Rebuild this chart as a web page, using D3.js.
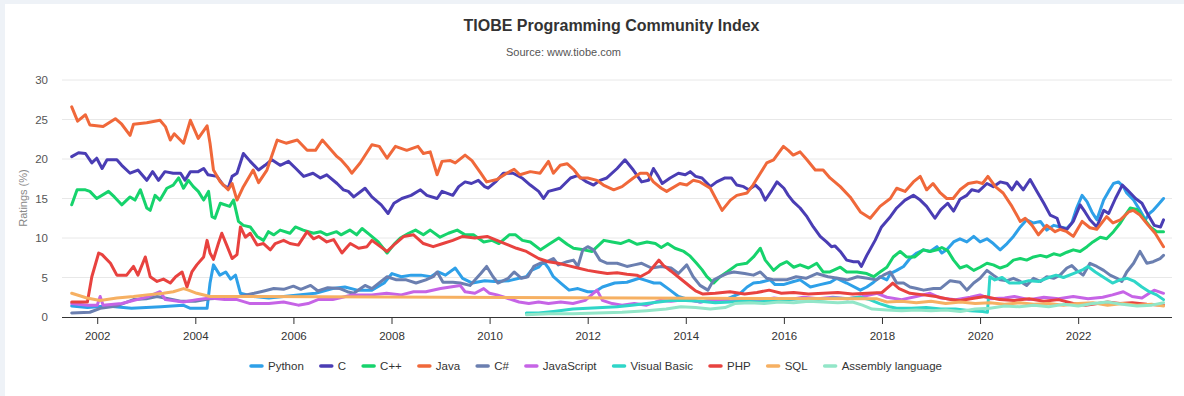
<!DOCTYPE html>
<html><head><meta charset="utf-8">
<script src="https://cdn.jsdelivr.net/npm/d3@7/dist/d3.min.js"></script>
<style>
html,body{margin:0;padding:0;background:#fff;}
svg{display:block;font-family:"Liberation Sans",Arial,Helvetica,sans-serif;}
</style></head>
<body><svg id="c" width="1184" height="396"></svg>
<script>
const seriesNames = ["Python","C","C++","Java","C#","JavaScript","Visual Basic","PHP","SQL","Assembly language"];
const seriesColors = ["#2ea0e8","#4a3db4","#16d36c","#f0683a","#6b7fb0","#c664e6","#2fd6c8","#e8423f","#f6b062","#92e6c8"];
const yearTicks = ["2002","2004","2006","2008","2010","2012","2014","2016","2018","2020","2022"];
const ratingTicks = [0,5,10,15,20,25,30];

const python = [[2001.48,1.4],[2001.8,1.2],[2002.2,1.4],[2002.7,1.1],[2003.3,1.3],[2003.75,1.5],[2003.9,1.1],[2004.24,1.1],[2004.3,4.3],[2004.37,6.6],[2004.5,5.3],[2004.62,5.7],[2004.72,4.8],[2004.82,5.3],[2004.92,3.0],[2005.18,2.6],[2005.5,2.4],[2005.8,2.6],[2006.1,2.8],[2006.45,3.0],[2006.8,3.6],[2007.05,3.8],[2007.3,3.4],[2007.6,3.4],[2007.85,4.3],[2008.01,5.5],[2008.2,5.1],[2008.4,5.3],[2008.6,5.3],[2008.8,5.1],[2008.95,5.7],[2009.1,5.3],[2009.3,6.2],[2009.45,4.9],[2009.65,4.3],[2009.9,4.6],[2010.1,4.5],[2010.4,4.6],[2010.6,4.9],[2010.75,5.1],[2010.85,5.9],[2011.0,6.3],[2011.1,7.0],[2011.2,6.2],[2011.3,5.1],[2011.45,4.3],[2011.62,3.4],[2011.8,3.6],[2012.0,3.2],[2012.15,3.2],[2012.3,3.8],[2012.55,4.3],[2012.8,4.4],[2013.05,4.9],[2013.2,4.6],[2013.35,4.3],[2013.48,4.3],[2013.68,3.4],[2013.85,2.6],[2014.02,2.3],[2014.29,1.9],[2014.5,2.1],[2014.77,2.1],[2015.11,3.0],[2015.25,3.8],[2015.38,4.3],[2015.52,4.4],[2015.72,4.7],[2015.82,4.1],[2015.99,4.1],[2016.2,4.5],[2016.33,4.7],[2016.54,3.8],[2016.74,4.1],[2016.95,4.4],[2017.08,4.9],[2017.28,4.3],[2017.56,3.4],[2017.69,3.8],[2017.83,4.4],[2017.96,5.1],[2018.1,4.7],[2018.17,5.5],[2018.3,5.9],[2018.44,6.4],[2018.57,7.4],[2018.71,8.1],[2018.85,8.5],[2018.98,8.3],[2019.12,8.9],[2019.22,8.1],[2019.32,8.5],[2019.46,9.5],[2019.59,9.9],[2019.73,9.5],[2019.87,10.2],[2020.0,9.5],[2020.14,9.9],[2020.27,9.3],[2020.41,8.5],[2020.55,9.3],[2020.68,10.2],[2020.82,11.4],[2020.95,12.3],[2021.09,11.9],[2021.23,12.1],[2021.36,11.0],[2021.5,11.6],[2021.63,11.4],[2021.77,11.2],[2021.87,11.9],[2021.97,13.8],[2022.08,15.4],[2022.18,14.6],[2022.28,13.3],[2022.38,12.3],[2022.52,14.8],[2022.62,15.9],[2022.72,16.9],[2022.82,17.1],[2022.92,16.5],[2022.99,15.7],[2023.13,14.8],[2023.26,13.5],[2023.37,12.3],[2023.45,13.1],[2023.53,13.5],[2023.63,14.2],[2023.74,15.0]];

const c = [[2001.48,20.3],[2001.62,20.8],[2001.76,20.7],[2001.89,19.5],[2001.99,20.1],[2002.1,18.8],[2002.2,19.9],[2002.4,19.9],[2002.5,19.2],[2002.67,18.2],[2002.83,18.6],[2003.01,17.3],[2003.13,18.4],[2003.25,17.3],[2003.38,18.4],[2003.55,18.2],[2003.7,18.2],[2003.79,17.3],[2003.9,18.4],[2004.06,18.4],[2004.17,18.8],[2004.26,18.0],[2004.44,17.8],[2004.57,16.7],[2004.67,16.3],[2004.75,17.8],[2004.85,18.2],[2004.98,20.7],[2005.12,19.7],[2005.29,18.6],[2005.42,19.2],[2005.56,19.9],[2005.73,19.2],[2005.9,19.7],[2006.05,18.8],[2006.21,17.8],[2006.4,18.2],[2006.55,17.6],[2006.68,18.0],[2006.89,16.9],[2007.02,16.1],[2007.12,15.9],[2007.23,15.2],[2007.46,16.3],[2007.6,15.2],[2007.79,14.2],[2007.93,13.1],[2008.05,14.4],[2008.21,15.0],[2008.4,15.4],[2008.59,16.1],[2008.72,15.4],[2008.93,15.0],[2009.03,15.9],[2009.25,15.4],[2009.37,16.5],[2009.5,17.1],[2009.63,16.9],[2009.77,17.3],[2009.9,16.5],[2009.97,16.3],[2010.12,17.1],[2010.28,18.2],[2010.48,18.2],[2010.66,17.6],[2010.83,16.7],[2011.0,15.9],[2011.1,15.0],[2011.2,15.9],[2011.44,16.3],[2011.65,17.6],[2011.79,17.9],[2011.98,17.1],[2012.12,16.7],[2012.25,17.3],[2012.39,17.6],[2012.6,18.8],[2012.76,19.9],[2012.93,18.6],[2013.1,17.1],[2013.24,17.3],[2013.34,18.8],[2013.44,17.8],[2013.52,16.9],[2013.68,17.6],[2013.85,18.2],[2013.99,18.0],[2014.09,18.4],[2014.2,17.8],[2014.33,17.6],[2014.5,16.5],[2014.63,17.1],[2014.8,17.6],[2014.93,17.6],[2015.04,16.7],[2015.18,16.5],[2015.28,16.1],[2015.42,16.7],[2015.52,16.1],[2015.62,14.8],[2015.76,16.1],[2015.86,17.1],[2016.0,16.3],[2016.09,15.4],[2016.19,14.6],[2016.33,13.8],[2016.47,12.7],[2016.6,11.4],[2016.74,10.2],[2016.87,9.5],[2016.97,8.9],[2017.04,9.0],[2017.15,8.3],[2017.28,7.2],[2017.42,7.0],[2017.52,7.0],[2017.58,6.4],[2017.69,7.8],[2017.86,9.7],[2017.99,11.4],[2018.17,12.7],[2018.3,13.8],[2018.47,14.8],[2018.64,15.4],[2018.78,14.8],[2018.91,14.0],[2019.08,12.5],[2019.2,13.6],[2019.34,14.4],[2019.46,13.4],[2019.59,14.9],[2019.73,15.4],[2019.83,16.1],[2019.97,15.9],[2020.14,16.9],[2020.27,16.5],[2020.41,17.1],[2020.55,16.9],[2020.65,16.1],[2020.75,17.1],[2020.88,16.1],[2021.02,17.4],[2021.16,15.9],[2021.3,14.4],[2021.43,12.9],[2021.57,12.5],[2021.63,11.4],[2021.77,11.1],[2021.9,12.1],[2022.04,14.2],[2022.14,13.3],[2022.24,12.3],[2022.38,11.4],[2022.52,13.5],[2022.62,13.1],[2022.76,15.0],[2022.9,16.7],[2023.0,16.1],[2023.17,15.0],[2023.3,14.4],[2023.41,13.1],[2023.55,11.6],[2023.68,11.4],[2023.74,12.3]];

const cpp = [[2001.48,14.2],[2001.59,16.1],[2001.76,16.1],[2001.85,15.9],[2001.99,15.0],[2002.23,15.9],[2002.35,15.2],[2002.5,14.2],[2002.67,15.2],[2002.77,14.8],[2002.88,16.1],[2003.01,13.8],[2003.08,13.5],[2003.18,15.4],[2003.28,14.8],[2003.42,16.3],[2003.55,16.7],[2003.66,17.6],[2003.76,16.3],[2003.86,17.3],[2003.96,16.5],[2004.06,15.9],[2004.17,14.8],[2004.27,15.9],[2004.34,12.7],[2004.4,12.5],[2004.51,14.4],[2004.7,14.0],[2004.78,14.8],[2004.88,12.1],[2004.98,11.6],[2005.12,11.4],[2005.26,10.2],[2005.39,9.7],[2005.49,10.8],[2005.6,10.4],[2005.73,11.0],[2005.93,10.6],[2006.04,11.4],[2006.2,11.0],[2006.41,10.6],[2006.55,10.8],[2006.68,10.4],[2006.88,10.8],[2006.97,10.4],[2007.15,11.0],[2007.29,10.4],[2007.4,11.2],[2007.56,10.4],[2007.73,9.5],[2007.91,8.1],[2008.05,9.2],[2008.18,10.0],[2008.35,10.6],[2008.49,11.0],[2008.65,10.4],[2008.79,11.0],[2008.99,10.1],[2009.16,10.6],[2009.34,11.0],[2009.5,10.4],[2009.67,10.4],[2009.88,9.5],[2010.05,9.7],[2010.19,9.3],[2010.4,10.4],[2010.53,10.4],[2010.67,9.7],[2010.83,9.5],[2011.04,8.5],[2011.21,9.2],[2011.41,10.0],[2011.58,9.2],[2011.71,8.7],[2011.92,8.5],[2012.09,8.3],[2012.33,9.7],[2012.5,9.5],[2012.67,9.3],[2012.84,9.7],[2013.01,9.2],[2013.21,9.5],[2013.38,9.3],[2013.5,8.8],[2013.63,9.3],[2013.78,8.7],[2013.96,8.3],[2014.09,7.7],[2014.22,6.8],[2014.33,6.0],[2014.43,5.1],[2014.57,4.3],[2014.7,5.1],[2014.84,5.7],[2015.04,6.6],[2015.24,6.8],[2015.38,7.6],[2015.52,8.7],[2015.62,7.2],[2015.79,5.9],[2015.92,6.6],[2016.06,7.0],[2016.2,6.3],[2016.33,6.6],[2016.5,6.2],[2016.67,6.8],[2016.8,5.7],[2016.94,5.7],[2017.15,6.3],[2017.28,5.7],[2017.49,5.7],[2017.69,5.5],[2017.83,5.1],[2017.96,5.7],[2018.1,6.3],[2018.23,7.6],[2018.37,8.3],[2018.5,7.6],[2018.67,7.6],[2018.84,8.5],[2018.98,8.3],[2019.12,8.5],[2019.22,8.8],[2019.34,8.4],[2019.46,7.2],[2019.59,6.2],[2019.73,6.5],[2019.87,5.9],[2020.0,6.3],[2020.14,6.8],[2020.27,6.6],[2020.41,6.2],[2020.55,6.5],[2020.68,7.2],[2020.82,7.4],[2020.95,7.2],[2021.09,7.6],[2021.23,7.8],[2021.36,7.6],[2021.5,8.0],[2021.63,7.8],[2021.77,8.2],[2021.9,8.5],[2022.04,8.3],[2022.18,8.9],[2022.3,9.5],[2022.45,10.1],[2022.58,9.9],[2022.72,10.8],[2022.86,11.9],[2022.96,12.9],[2023.06,13.8],[2023.2,13.6],[2023.33,12.5],[2023.47,11.4],[2023.6,10.8],[2023.74,10.8]];

const java = [[2001.48,26.6],[2001.6,24.8],[2001.76,25.6],[2001.85,24.3],[2002.12,24.1],[2002.37,25.1],[2002.5,24.4],[2002.67,23.0],[2002.74,24.4],[2003.01,24.6],[2003.28,24.9],[2003.39,24.1],[2003.49,22.4],[2003.57,23.2],[2003.76,22.0],[2003.9,24.9],[2004.06,22.6],[2004.24,24.2],[2004.3,22.0],[2004.37,18.6],[2004.51,17.1],[2004.67,16.1],[2004.75,16.9],[2004.85,14.8],[2004.98,16.5],[2005.18,18.6],[2005.29,17.0],[2005.46,18.6],[2005.67,22.4],[2005.85,22.0],[2006.08,22.4],[2006.28,21.1],[2006.45,21.1],[2006.59,22.4],[2006.89,20.3],[2006.97,19.9],[2007.1,19.0],[2007.19,18.2],[2007.36,19.5],[2007.6,21.8],[2007.75,21.6],[2007.91,20.1],[2008.08,21.6],[2008.31,21.1],[2008.54,21.6],[2008.65,20.7],[2008.79,20.9],[2008.93,18.0],[2009.03,19.7],[2009.2,19.8],[2009.3,19.5],[2009.5,20.5],[2009.64,19.8],[2009.82,18.2],[2009.94,17.1],[2010.15,17.4],[2010.35,18.2],[2010.5,18.7],[2010.62,18.0],[2010.83,18.4],[2011.03,18.2],[2011.2,19.7],[2011.3,18.2],[2011.44,19.2],[2011.58,19.4],[2011.71,18.7],[2011.85,17.6],[2012.0,17.6],[2012.19,17.3],[2012.32,16.7],[2012.53,16.1],[2012.7,16.5],[2012.93,17.6],[2013.07,18.2],[2013.21,18.2],[2013.34,17.1],[2013.5,16.3],[2013.61,15.9],[2013.88,16.9],[2014.02,16.7],[2014.15,17.3],[2014.29,17.1],[2014.5,16.3],[2014.74,13.5],[2014.91,14.8],[2015.04,15.4],[2015.25,15.7],[2015.37,16.7],[2015.52,18.2],[2015.65,19.5],[2015.79,19.9],[2015.99,21.6],[2016.09,21.1],[2016.19,20.5],[2016.33,20.9],[2016.47,19.9],[2016.64,18.6],[2016.8,18.6],[2016.94,17.6],[2017.15,16.5],[2017.35,15.2],[2017.56,13.3],[2017.76,12.5],[2017.96,14.0],[2018.17,15.0],[2018.3,16.3],[2018.47,15.9],[2018.64,17.1],[2018.78,17.8],[2018.91,16.1],[2019.04,16.9],[2019.19,15.7],[2019.32,15.0],[2019.45,15.0],[2019.59,16.1],[2019.76,16.9],[2019.93,17.1],[2020.05,16.9],[2020.16,17.8],[2020.31,16.5],[2020.47,15.7],[2020.65,14.0],[2020.82,12.1],[2020.92,12.5],[2021.06,11.6],[2021.19,10.4],[2021.36,11.6],[2021.53,10.8],[2021.63,11.1],[2021.77,10.8],[2021.9,10.2],[2022.08,12.1],[2022.24,11.3],[2022.38,11.1],[2022.58,12.7],[2022.71,11.9],[2022.86,12.3],[2023.03,13.3],[2023.12,13.5],[2023.26,12.9],[2023.43,11.6],[2023.57,10.6],[2023.74,8.9]];

const csharp = [[2001.48,0.5],[2001.85,0.6],[2002.06,1.1],[2002.4,1.4],[2002.74,2.2],[2003.0,2.3],[2003.22,2.6],[2003.45,2.3],[2003.7,2.0],[2004.0,2.0],[2004.3,2.3],[2004.6,2.4],[2004.9,2.6],[2005.2,3.0],[2005.4,3.3],[2005.6,3.6],[2005.8,3.5],[2006.0,3.9],[2006.15,3.5],[2006.35,4.0],[2006.5,3.3],[2006.7,3.7],[2006.95,3.6],[2007.1,3.2],[2007.23,3.0],[2007.46,4.0],[2007.6,3.6],[2007.91,5.1],[2008.1,4.7],[2008.3,4.7],[2008.5,4.3],[2008.7,4.7],[2008.85,5.1],[2008.93,5.7],[2009.05,4.4],[2009.25,4.4],[2009.4,4.3],[2009.6,4.0],[2009.82,5.5],[2009.94,6.4],[2010.07,5.1],[2010.17,4.3],[2010.38,4.9],[2010.5,5.7],[2010.65,4.9],[2010.78,5.1],[2010.9,6.4],[2011.03,6.8],[2011.17,7.0],[2011.3,7.4],[2011.4,6.6],[2011.58,7.0],[2011.71,7.2],[2011.8,6.4],[2011.9,8.5],[2012.0,8.9],[2012.12,8.5],[2012.25,7.2],[2012.4,6.8],[2012.6,6.8],[2012.8,6.4],[2012.95,6.6],[2013.1,6.8],[2013.3,6.2],[2013.5,6.4],[2013.7,6.2],[2013.85,5.5],[2014.02,6.6],[2014.15,5.1],[2014.29,4.0],[2014.45,3.4],[2014.57,4.7],[2014.7,5.1],[2014.84,5.5],[2014.98,5.7],[2015.2,5.5],[2015.38,5.3],[2015.52,5.7],[2015.65,4.9],[2015.8,4.7],[2016.05,4.7],[2016.25,5.1],[2016.45,4.9],[2016.67,5.5],[2016.9,5.1],[2017.1,4.9],[2017.3,4.7],[2017.5,5.1],[2017.7,4.9],[2017.89,4.7],[2018.03,5.3],[2018.17,5.7],[2018.3,4.3],[2018.44,4.3],[2018.57,3.8],[2018.71,3.6],[2018.85,3.4],[2019.05,3.6],[2019.19,3.6],[2019.39,4.6],[2019.59,4.4],[2019.73,3.4],[2019.87,4.3],[2020.0,4.9],[2020.14,5.9],[2020.27,5.3],[2020.41,4.7],[2020.55,4.6],[2020.68,4.9],[2020.82,4.5],[2020.95,4.0],[2021.09,4.9],[2021.23,4.5],[2021.36,5.1],[2021.5,4.9],[2021.63,5.3],[2021.77,6.2],[2021.87,6.5],[2021.97,5.9],[2022.1,5.3],[2022.24,6.8],[2022.38,6.4],[2022.52,5.9],[2022.65,5.3],[2022.79,4.9],[2022.89,4.5],[2022.99,5.7],[2023.13,6.8],[2023.26,8.3],[2023.4,6.8],[2023.53,7.0],[2023.67,7.4],[2023.74,7.8]];

const javascript = [[2001.48,1.7],[2001.8,1.5],[2002.0,1.5],[2002.06,2.6],[2002.12,1.5],[2002.5,1.7],[2002.81,2.2],[2003.05,2.6],[2003.28,3.2],[2003.39,2.2],[2003.76,1.9],[2004.03,2.2],[2004.3,2.4],[2004.6,2.2],[2004.85,2.2],[2005.12,1.7],[2005.5,1.7],[2005.8,1.9],[2006.1,1.5],[2006.3,1.7],[2006.5,2.2],[2006.8,2.2],[2007.0,2.5],[2007.2,2.8],[2007.6,2.8],[2007.9,3.0],[2008.2,2.8],[2008.45,3.2],[2008.7,3.2],[2009.0,3.6],[2009.2,3.8],[2009.4,4.0],[2009.5,3.2],[2009.7,3.0],[2009.88,3.6],[2010.0,3.0],[2010.15,2.8],[2010.35,2.4],[2010.6,1.9],[2010.8,1.7],[2011.0,1.9],[2011.2,1.7],[2011.45,1.9],[2011.7,1.7],[2011.95,2.1],[2012.19,3.4],[2012.3,2.1],[2012.5,1.7],[2012.7,1.5],[2012.95,1.7],[2013.2,1.5],[2013.48,2.1],[2013.7,2.0],[2014.0,2.2],[2014.3,1.9],[2014.6,2.2],[2014.9,2.0],[2015.2,2.3],[2015.5,2.1],[2015.8,2.4],[2016.1,2.2],[2016.4,2.5],[2016.7,2.3],[2017.0,2.5],[2017.3,2.3],[2017.6,2.6],[2017.9,3.0],[2018.1,2.5],[2018.4,2.2],[2018.7,2.6],[2018.98,3.0],[2019.2,2.4],[2019.5,2.2],[2019.8,2.5],[2020.0,2.8],[2020.2,2.3],[2020.5,2.4],[2020.7,2.6],[2021.0,2.2],[2021.3,2.5],[2021.6,2.3],[2021.9,2.6],[2022.2,2.3],[2022.5,2.5],[2022.7,2.8],[2022.92,3.2],[2023.1,2.6],[2023.3,2.4],[2023.45,3.0],[2023.55,3.4],[2023.74,3.0]];

const visualBasic = [[2010.75,0.5],[2011.0,0.5],[2011.3,0.7],[2011.7,1.0],[2012.0,1.1],[2012.3,1.2],[2012.6,1.3],[2012.9,1.5],[2013.2,1.7],[2013.45,1.9],[2013.7,2.1],[2014.0,2.1],[2014.3,2.0],[2014.6,1.8],[2014.9,1.9],[2015.2,2.0],[2015.5,1.9],[2015.8,2.1],[2016.1,2.2],[2016.4,2.3],[2016.7,2.2],[2017.0,2.4],[2017.3,2.3],[2017.55,2.5],[2017.75,2.2],[2017.95,1.7],[2018.15,1.3],[2018.3,1.1],[2018.6,1.1],[2018.9,1.2],[2019.2,1.0],[2019.5,1.0],[2019.8,0.8],[2020.05,0.7],[2020.15,0.6],[2020.2,5.1],[2020.3,4.7],[2020.45,5.0],[2020.6,4.3],[2020.8,4.3],[2021.0,4.6],[2021.2,4.5],[2021.4,5.0],[2021.55,5.3],[2021.7,5.0],[2021.9,5.5],[2022.1,6.0],[2022.2,6.4],[2022.35,5.7],[2022.5,5.1],[2022.7,4.3],[2022.85,4.7],[2023.0,4.9],[2023.15,4.5],[2023.3,3.8],[2023.45,3.2],[2023.6,2.8],[2023.74,2.2]];

const php = [[2001.48,1.9],[2001.8,1.9],[2001.89,5.1],[2002.03,8.1],[2002.1,7.9],[2002.27,6.8],[2002.4,5.3],[2002.6,5.3],[2002.74,6.4],[2002.83,5.3],[2002.98,7.6],[2003.08,5.1],[2003.22,4.5],[2003.35,4.8],[2003.49,4.3],[2003.6,5.1],[2003.73,5.7],[2003.83,3.8],[2003.93,5.7],[2004.03,6.6],[2004.17,7.6],[2004.24,9.7],[2004.3,8.1],[2004.37,7.3],[2004.47,9.3],[2004.54,10.6],[2004.64,9.1],[2004.75,7.4],[2004.85,7.9],[2004.92,11.4],[2005.02,10.1],[2005.12,10.6],[2005.26,9.1],[2005.39,9.3],[2005.53,8.5],[2005.63,9.3],[2005.8,9.7],[2005.93,9.3],[2006.1,9.1],[2006.28,10.8],[2006.41,9.9],[2006.52,10.2],[2006.68,9.5],[2006.82,9.8],[2006.99,8.1],[2007.1,8.9],[2007.16,9.3],[2007.33,8.7],[2007.5,8.9],[2007.6,9.7],[2007.91,8.3],[2008.08,9.3],[2008.25,10.2],[2008.45,10.4],[2008.65,9.3],[2008.85,8.9],[2009.05,9.3],[2009.25,9.7],[2009.45,10.2],[2009.7,10.0],[2009.95,10.2],[2010.15,9.7],[2010.35,9.2],[2010.55,8.7],[2010.75,8.3],[2011.0,7.4],[2011.2,7.0],[2011.4,6.8],[2011.6,6.5],[2011.8,6.2],[2012.0,5.9],[2012.2,5.7],[2012.4,5.5],[2012.6,5.6],[2012.8,5.4],[2013.0,5.3],[2013.07,5.1],[2013.25,5.7],[2013.45,7.2],[2013.55,6.5],[2013.7,5.8],[2013.88,4.9],[2014.0,4.3],[2014.1,3.8],[2014.2,3.3],[2014.35,2.9],[2014.6,3.0],[2014.9,3.2],[2015.2,2.9],[2015.45,3.1],[2015.7,3.4],[2015.95,3.0],[2016.2,3.1],[2016.5,2.9],[2016.8,3.0],[2017.1,3.1],[2017.4,2.9],[2017.7,3.0],[2018.0,3.1],[2018.17,4.0],[2018.22,4.3],[2018.35,3.6],[2018.57,3.0],[2018.85,2.8],[2019.1,2.6],[2019.4,2.2],[2019.6,2.1],[2019.9,2.4],[2020.1,2.6],[2020.4,2.2],[2020.7,2.1],[2021.0,2.3],[2021.3,2.0],[2021.6,2.2],[2021.9,1.7],[2022.15,1.5],[2022.4,1.7],[2022.6,1.9],[2022.85,1.7],[2023.1,1.8],[2023.4,1.6],[2023.74,1.5]];

const sql = [[2001.48,3.0],[2001.79,2.4],[2002.06,2.1],[2002.4,2.4],[2002.74,2.6],[2003.01,2.8],[2003.35,3.0],[2003.55,3.2],[2003.76,3.6],[2003.86,3.4],[2004.03,3.0],[2004.3,2.6],[2004.4,2.6],[2017.9,2.3],[2018.1,1.9],[2018.4,2.0],[2018.7,1.8],[2019.0,2.0],[2019.3,1.7],[2019.6,1.9],[2019.9,1.7],[2020.2,1.8],[2020.5,1.6],[2020.8,1.8],[2021.1,1.6],[2021.4,1.7],[2021.7,1.5],[2022.0,1.7],[2022.3,1.8],[2022.6,1.5],[2022.9,1.7],[2023.2,1.5],[2023.5,1.6],[2023.74,1.4]];

const assembly = [[2010.75,0.3],[2011.2,0.4],[2011.7,0.4],[2012.2,0.5],[2012.7,0.6],[2013.2,0.8],[2013.6,1.0],[2013.9,1.3],[2014.2,1.2],[2014.5,1.0],[2014.8,1.2],[2015.0,1.7],[2015.3,1.8],[2015.6,1.7],[2015.9,1.9],[2016.2,1.8],[2016.5,2.0],[2016.8,1.9],[2017.1,1.8],[2017.4,1.9],[2017.6,1.5],[2017.8,1.0],[2018.1,0.9],[2018.4,0.8],[2018.7,0.9],[2019.0,0.8],[2019.3,0.9],[2019.6,0.7],[2019.9,1.0],[2020.2,1.1],[2020.5,1.4],[2020.8,1.3],[2021.1,1.5],[2021.4,1.3],[2021.7,1.6],[2022.0,1.4],[2022.3,1.7],[2022.6,1.9],[2022.9,1.6],[2023.2,1.4],[2023.5,1.5],[2023.74,1.8]];

const seriesData = [python, c, cpp, java, csharp, javascript, visualBasic, php, sql, assembly];

const svg = d3.select("#c");
const W = 1184, H = 396;
const plot = {left: 62, right: 1172, top: 80, bottom: 317};

// page frame
svg.append("rect").attr("x",0).attr("y",0).attr("width",W).attr("height",H).attr("fill","#eef2f7");
svg.append("rect").attr("x",5).attr("y",4).attr("width",W-5).attr("height",H-4).attr("fill","#ffffff");

const x = d3.scaleLinear().domain([2001.282, 2023.913]).range([plot.left, plot.right]);
const y = d3.scaleLinear().domain([0, 30]).range([plot.bottom, plot.top]);

// gridlines
svg.append("g").selectAll("line").data(ratingTicks.filter(v => v > 0)).join("line")
  .attr("x1", plot.left).attr("x2", plot.right)
  .attr("y1", d => y(d)).attr("y2", d => y(d))
  .attr("stroke", "#e8e8e8").attr("stroke-width", 1);

// y axis labels
const yAxis = d3.axisLeft(y).tickValues(ratingTicks).tickSize(0).tickPadding(0);
const yg = svg.append("g").attr("transform", `translate(${plot.left - 14},0)`).call(yAxis);
yg.select(".domain").remove();
yg.selectAll("text").attr("font-size", 11.5).attr("fill", "#555").attr("font-family", "Liberation Sans, Arial, sans-serif");

// x axis
const xAxis = d3.axisBottom(x).tickValues(yearTicks.map(Number)).tickFormat(d => String(d)).tickSize(7).tickPadding(8).tickSizeOuter(0);
const xg = svg.append("g").attr("transform", `translate(0,${plot.bottom})`).call(xAxis);
xg.select(".domain").attr("stroke", "#333").attr("stroke-width", 1).attr("d", `M${plot.left},0.5H${plot.right}`);
xg.selectAll(".tick line").attr("stroke", "#333");
xg.selectAll("text").attr("font-size", 11.5).attr("fill", "#333").attr("font-family", "Liberation Sans, Arial, sans-serif");

// lines
const line = d3.line().x(d => x(d[0])).y(d => y(d[1])).curve(d3.curveLinear);
svg.append("g").selectAll("path").data(seriesData).join("path")
  .attr("d", line)
  .attr("fill", "none")
  .attr("stroke", (d, i) => seriesColors[i])
  .attr("stroke-width", 3)
  .attr("stroke-linejoin", "round")
  .attr("stroke-linecap", "round");

// title
svg.append("text").attr("x", 611.5).attr("y", 31).attr("text-anchor", "middle")
  .attr("font-size", 16).attr("font-weight", "bold").attr("fill", "#333")
  .text("TIOBE Programming Community Index");
svg.append("text").attr("x", 563.5).attr("y", 56).attr("text-anchor", "middle")
  .attr("font-size", 11).attr("fill", "#555")
  .text("Source: www.tiobe.com");

// y axis title
svg.append("text").attr("transform", "translate(27,198) rotate(-90)").attr("text-anchor", "middle")
  .attr("font-size", 11).attr("fill", "#888").text("Ratings (%)");

// legend
const lg = svg.append("g");
const items = lg.selectAll("g").data(seriesNames).join("g");
items.append("line").attr("x1", 0).attr("x2", 11).attr("y1", 0).attr("y2", 0)
  .attr("stroke", (d, i) => seriesColors[i]).attr("stroke-width", 3.5).attr("stroke-linecap", "round");
items.append("text").attr("x", 17).attr("y", 0).attr("dy", "0.35em")
  .attr("font-size", 11.5).attr("fill", "#333").text(d => d);
let pos = 0; const offs = [];
const gap = 17;
items.each(function() {
  const tw = d3.select(this).select("text").node().getComputedTextLength();
  offs.push(pos);
  pos += 17 + tw + gap;
});
const total = pos - gap;
const startX = 596.5 - total / 2;
items.attr("transform", (d, i) => `translate(${startX + offs[i]},366)`);
</script></body></html>
